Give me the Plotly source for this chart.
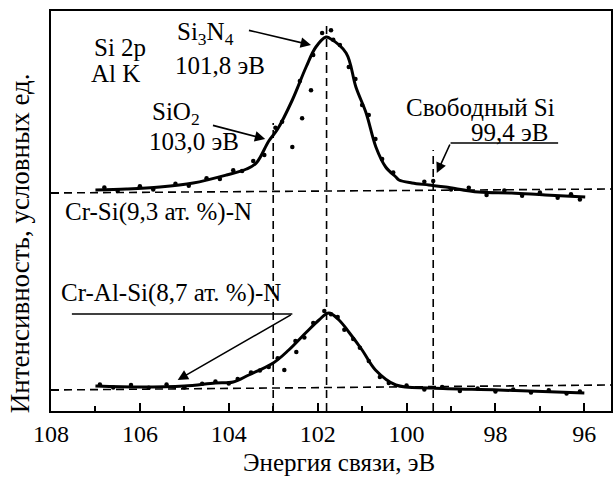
import plotly.graph_objects as go

# Si 2p XPS spectra, binding energy (eV) vs intensity (arb. units)
# Cr-Si(9,3 at.%)-N : smoothed envelope
crsi_energy = [107.0, 106.3, 105.55, 104.8, 104.05, 103.6, 103.38, 103.1, 102.9, 102.57,
               102.26, 102.04, 101.81, 101.74, 101.36, 101.14, 100.91, 100.69, 100.47,
               100.24, 100.17, 99.88, 99.5, 99.12, 98.38, 97.64, 96.88, 95.98]
crsi_counts = [55.25, 55.5, 56.0, 57.0, 59.0, 60.5, 62.0, 67.5, 70.5, 77.75,
               86.0, 91.0, 93.5, 93.25, 89.5, 81.0, 74.5, 66.0, 61.0,
               58.5, 57.75, 57.0, 56.5, 56.0, 54.75, 54.5, 54.0, 53.5]
# Cr-Si(9,3 at.%)-N : measured points
crsi_pts_energy = [106.8, 106.5, 106.0, 105.7, 105.2, 104.9, 104.5, 104.2, 103.9, 103.7,
                   103.45, 103.2, 102.95, 102.8, 102.57, 102.35, 102.15, 102.4, 102.1,
                   101.9, 101.7, 101.65, 101.5, 101.3, 101.15, 101.0, 100.85, 100.7,
                   100.55, 100.3, 99.6, 99.4, 99.0, 98.6, 98.2, 97.8, 97.4, 97.0,
                   96.6, 96.3, 96.1]
crsi_pts_counts = [55.9, 55.0, 56.2, 55.4, 56.8, 56.3, 58.2, 58.0, 60.2, 60.0,
                   62.5, 64.0, 70.8, 72.3, 66.0, 73.2, 80.2, 82.5, 89.0,
                   94.5, 95.2, 92.8, 91.5, 86.0, 83.0, 76.5, 74.0, 68.0,
                   63.0, 59.6, 57.3, 57.5, 55.4, 55.8, 54.0, 55.1, 53.8, 54.6,
                   53.3, 54.2, 52.9]

# Cr-Al-Si(8,7 at.%)-N : smoothed envelope
cralsi_energy = [107.0, 106.0, 105.0, 104.3, 103.9, 103.55, 103.0, 102.65, 102.25,
                 101.97, 101.75, 101.52, 101.3, 101.0, 100.7, 100.24, 99.43, 97.93, 96.0]
cralsi_counts = [6.25, 6.0, 6.25, 7.0, 7.25, 9.0, 12.0, 15.25, 19.75,
                 22.75, 24.5, 22.75, 19.75, 15.25, 10.25, 6.5, 5.75, 5.25, 4.5]
# Cr-Al-Si(8,7 at.%)-N : measured points
cralsi_pts_energy = [106.9, 106.6, 106.2, 105.8, 105.4, 105.0, 104.6, 104.3, 104.0, 103.8,
                     103.5, 103.3, 103.1, 102.9, 102.75, 102.48, 102.5, 102.3, 102.1,
                     101.85, 101.7, 101.55, 101.4, 101.2, 101.05, 100.85, 100.6, 100.4,
                     100.0, 99.6, 99.2, 98.8, 98.4, 98.0, 97.6, 97.2, 96.8, 96.4, 96.1]
cralsi_pts_counts = [6.6, 5.9, 6.5, 5.8, 6.6, 5.9, 6.8, 7.4, 6.9, 8.0,
                     9.6, 10.1, 11.0, 13.2, 10.25, 14.75, 17.5, 18.4, 22.0,
                     25.0, 24.2, 23.5, 20.3, 18.0, 15.8, 12.5, 8.5, 7.0,
                     6.4, 5.4, 6.0, 5.0, 5.6, 4.9, 5.4, 4.6, 5.2, 4.4, 4.9]

# Reference binding energies of Si states
peak_energy = [103.0, 101.8, 99.4]
peak_top = [72.0, 97.5, 65.25]
# Background levels of the two spectra (left end, right end)
baseline_crsi = [54.5, 55.5]
baseline_cralsi = [5.25, 6.5]

x_ticks = [108, 106, 104, 102, 100, 98, 96]
x_range = [108, 95.4]

FONT = "'Liberation Serif', 'Times New Roman', Times, serif"
BLACK = "black"

fig = go.Figure()

for e, c in [(crsi_energy, crsi_counts), (cralsi_energy, cralsi_counts)]:
    fig.add_trace(go.Scatter(x=e, y=c, mode="lines", line=dict(color=BLACK, width=3, shape="spline"),
                             showlegend=False, hoverinfo="skip"))
for e, c in [(crsi_pts_energy, crsi_pts_counts), (cralsi_pts_energy, cralsi_pts_counts)]:
    fig.add_trace(go.Scatter(x=e, y=c, mode="markers", marker=dict(color=BLACK, size=4.5),
                             showlegend=False, hoverinfo="skip"))

dash_line = dict(color=BLACK, width=1.6, dash="8px,5px")
shapes = []
for pe, top in zip(peak_energy, peak_top):
    shapes.append(dict(type="line", xref="x", yref="y", x0=pe, x1=pe, y0=0, y1=top, line=dash_line))
for b in (baseline_crsi, baseline_cralsi):
    shapes.append(dict(type="line", xref="x", yref="y", x0=x_range[0], x1=x_range[1],
                       y0=b[0], y1=b[1], line=dash_line))
# leader lines of the callouts
shapes.append(dict(type="line", xref="x", yref="y", x0=96.59, x1=99.01, y0=67.0, y1=67.0,
                   line=dict(color=BLACK, width=1.6)))
shapes.append(dict(type="line", xref="x", yref="y", x0=107.53, x1=102.57, y0=24.25, y1=24.25,
                   line=dict(color=BLACK, width=1.6)))

tfont = dict(family=FONT, size=24, color=BLACK)
lfont = dict(family=FONT, size=25, color=BLACK)
annotations = []


def label(text, x, y, anchor="left"):
    annotations.append(dict(text=text, x=x, y=y, xref="x", yref="y", showarrow=False,
                            xanchor=anchor, yanchor="middle", font=lfont))


def arrow(x0, y0, x1, y1):
    annotations.append(dict(text="", x=x1, y=y1, ax=x0, ay=y0, xref="x", yref="y",
                            axref="x", ayref="y", showarrow=True, arrowhead=2,
                            arrowsize=1.3, arrowwidth=1.6, arrowcolor=BLACK))


label("Si 2p", 106.45, 91.0, "center")
label("Al K", 106.54, 84.5, "center")
label("Si<sub>3</sub>N<sub>4</sub>", 105.22, 94.5)
label("101,8 эВ", 105.26, 86.5)
label("SiO<sub>2</sub>", 105.78, 74.5)
label("103,0 эВ", 105.83, 67.5)
label("Свободный Si", 100.06, 76.0)
label("99,4 эВ", 98.6, 69.75)
label("Cr-Si(9,3 ат. %)-N", 107.73, 49.75)
label("Cr-Al-Si(8,7 ат. %)-N", 107.82, 29.5)

arrow(103.58, 95.25, 102.15, 91.5)
arrow(104.39, 71.5, 103.18, 68.0)
arrow(99.01, 67.0, 99.32, 59.5)
arrow(102.57, 24.25, 105.15, 7.75)

annotations.append(dict(text="Энергия связи, эВ", x=0.514, y=-0.13, xref="paper", yref="paper",
                        showarrow=False, xanchor="center", yanchor="middle", font=lfont))
annotations.append(dict(text="Интенсивность, условных ед.", x=-0.055, y=0.42, xref="paper",
                        yref="paper", showarrow=False, textangle=-90, xanchor="center",
                        yanchor="middle", font=dict(family=FONT, size=27, color=BLACK)))

fig.update_layout(
    width=614, height=477,
    margin=dict(l=51, r=1, t=11, b=66),
    paper_bgcolor="white", plot_bgcolor="white",
    font=tfont,
    shapes=shapes, annotations=annotations,
    xaxis=dict(range=x_range, tickvals=x_ticks, ticktext=[str(v) for v in x_ticks],
               ticks="inside", ticklen=8, tickwidth=2, tickcolor=BLACK,
               minor=dict(ticks="inside", ticklen=5, tickwidth=2, tickcolor=BLACK, dtick=1),
               showline=True, linewidth=2, linecolor=BLACK, mirror=True,
               showgrid=False, zeroline=False, tickfont=tfont),
    yaxis=dict(range=[0, 100], tickvals=[baseline_cralsi[0], baseline_crsi[0]], showticklabels=False,
               ticks="inside", ticklen=8, tickwidth=2, tickcolor=BLACK,
               showline=True, linewidth=2, linecolor=BLACK, mirror=True,
               showgrid=False, zeroline=False),
)

fig.write_html("out.html")
